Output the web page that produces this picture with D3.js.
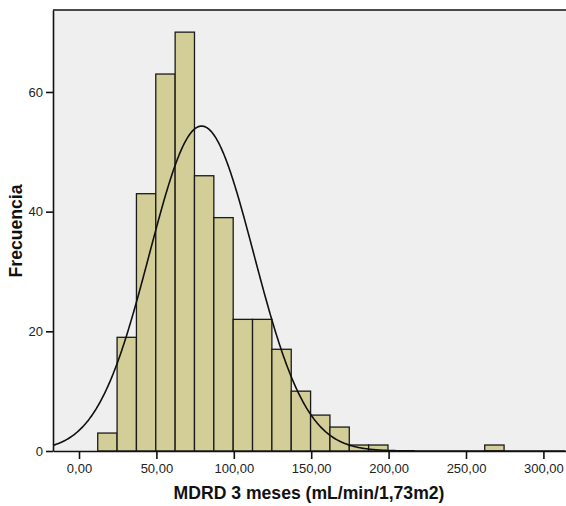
<!DOCTYPE html>
<html lang="es">
  <head>
    <meta charset="utf-8" />
    <title>MDRD 3 meses - histograma</title>
    <script src="https://cdn.jsdelivr.net/npm/d3@7"></script>
    <style>
      body { margin: 0; background: #fff; }
      svg { display: block; font-family: "Liberation Sans", Arial, sans-serif; }
      .axis path, .axis line { stroke: #111; stroke-width: 1.6px; }
      .axis text { font-size: 13px; fill: #222; }
      .bar { fill: #d3ce97; stroke: #1a1a1a; stroke-width: 1.3px; }
      .curve { fill: none; stroke: #111; stroke-width: 1.6px; }
      .title { font-size: 17.6px; font-weight: bold; fill: #111; }
    </style>
  </head>
  <body>
    <script>
      // frecuencias por intervalo (bins de ancho fijo)
      let counts = [3, 19, 43, 63, 70, 46, 39, 22, 22, 17, 10, 6, 4, 1, 1, 0, 0, 0, 0, 0, 1];
      let binStart = 12.1;
      let binWidth = 12.5;
      let xTicks = [0, 50, 100, 150, 200, 250, 300];
      let yTicks = [0, 20, 40, 60];
      // curva normal ajustada
      let curveMean = 79.2;
      let curveSd = 33.7;

      let w = 566, h = 506;
      let mLeft = 53, mTop = 10, mRight = 566, mBottom = 451;

      let svg = d3.select("body").append("svg").attr("width", w).attr("height", h);

      let x = d3.scaleLinear().domain([-16.8, 314.6]).range([mLeft, mRight]);
      let y = d3.scaleLinear().domain([0, 73.7]).range([mBottom, mTop]);

      svg.append("rect")
        .attr("x", mLeft).attr("y", mTop)
        .attr("width", mRight - mLeft).attr("height", mBottom - mTop)
        .attr("fill", "#efefef");

      let bins = counts.map((c, i) => ({ x0: binStart + i * binWidth, x1: binStart + (i + 1) * binWidth, c: c }))
        .filter(d => d.c > 0);

      svg.selectAll("rect.bar")
        .data(bins)
        .join("rect")
        .attr("class", "bar")
        .attr("x", d => x(d.x0))
        .attr("y", d => y(d.c))
        .attr("width", d => x(d.x1) - x(d.x0))
        .attr("height", d => y(0) - y(d.c));

      let n = d3.sum(counts);
      let xs = d3.range(-16.8, 314.6, 0.5);
      let dens = v => n * binWidth / (curveSd * Math.sqrt(2 * Math.PI)) * Math.exp(-0.5 * ((v - curveMean) / curveSd) ** 2);
      let line = d3.line().x(v => x(v)).y(v => y(dens(v)));
      svg.append("path").attr("class", "curve").attr("d", line(xs));

      // borde superior
      svg.append("line")
        .attr("x1", mLeft).attr("x2", mRight).attr("y1", mTop).attr("y2", mTop)
        .attr("stroke", "#111").attr("stroke-width", 1.6);

      let fmt = v => d3.format(".2f")(v).replace(".", ",");

      svg.append("g")
        .attr("class", "axis")
        .attr("transform", `translate(0,${mBottom})`)
        .call(d3.axisBottom(x).tickValues(xTicks).tickFormat(fmt).tickSize(8).tickSizeOuter(0).tickPadding(5));

      svg.append("g")
        .attr("class", "axis")
        .attr("transform", `translate(${mLeft},0)`)
        .call(d3.axisLeft(y).tickValues(yTicks).tickSize(7).tickSizeOuter(0).tickPadding(3));

      svg.append("text")
        .attr("class", "title")
        .attr("x", 309).attr("y", 499)
        .attr("text-anchor", "middle")
        .text("MDRD 3 meses (mL/min/1,73m2)");

      svg.append("text")
        .attr("class", "title")
        .attr("transform", "translate(22,231) rotate(-90)")
        .attr("text-anchor", "middle")
        .text("Frecuencia");
    </script>
  </body>
</html>
